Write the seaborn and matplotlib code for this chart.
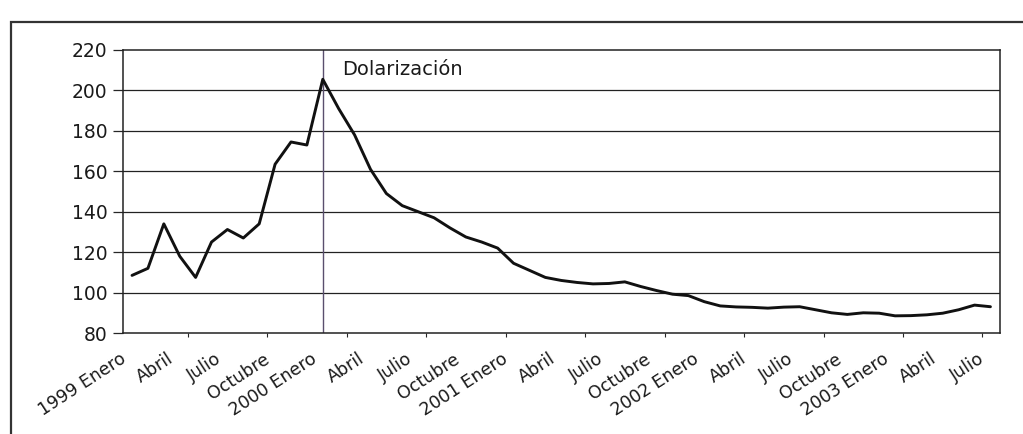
import numpy as np
import pandas as pd
import matplotlib
matplotlib.use("Agg")
import matplotlib.pyplot as plt
from matplotlib.patches import Rectangle
from matplotlib.transforms import ScaledTranslation
import seaborn as sns

# Monthly index values, January 1999 - July 2003
months = pd.date_range("1999-01-01", "2003-07-01", freq="MS")
values = [108.5, 112, 134, 118, 107.5, 125, 131.2, 127, 134, 163.5,
          174.5, 173, 205.5, 191, 178, 161, 149, 143, 140, 137,
          132, 127.5, 125, 122, 114.5, 111, 107.5, 106, 105, 104.3,
          104.5, 105.3, 103, 101, 99.2, 98.5, 95.5, 93.4, 92.9, 92.7,
          92.3, 92.8, 93, 91.5, 90, 89.2, 90, 89.8, 88.5, 88.6,
          89, 89.8, 91.5, 93.8, 93]

month_names = {1: "Enero", 4: "Abril", 7: "Julio", 10: "Octubre"}
dolarizacion = "2000-01"
y_ticks = [80, 100, 120, 140, 160, 180, 200, 220]

df = pd.DataFrame({"mes": np.arange(len(values)), "valor": values})

sns.set_style("white")
plt.rcParams["font.family"] = ["DejaVu Sans"]

fig = plt.figure(figsize=(10.23, 4.34), dpi=100)
ax = fig.add_axes([0.1202, 0.2327, 0.8573, 0.6521])

# outer frame of the scanned figure
fig.patches.append(Rectangle((11 / 1023, -0.1), 1.2, 1.1 - 22 / 434,
                             transform=fig.transFigure, fill=False,
                             edgecolor="#333333", linewidth=1.6))

for v in y_ticks[1:-1]:
    ax.axhline(v, color="#222222", linewidth=0.9, zorder=1)

sns.lineplot(data=df, x="mes", y="valor", color="#111111", linewidth=2.1, ax=ax, zorder=3)

d_idx = list(months.strftime("%Y-%m")).index(dolarizacion)
ax.axvline(d_idx, color="#5a4f6e", linewidth=1.0, zorder=2)
ax.annotate("Dolarización", xy=(d_idx, 215), xytext=(14, 0), textcoords="offset points",
            ha="left", va="top", fontsize=14, color="#1a1a1a")

ax.set_xlim(-0.57, 54.6)
ax.set_ylim(80, 220)
ax.set_yticks(y_ticks)
ax.set_yticklabels([str(v) for v in y_ticks], fontsize=13.5, color="#1a1a1a")

tick_idx = [i for i, m in enumerate(months) if m.month in month_names]
tick_lab = [(f"{m.year} " if m.month == 1 else "") + month_names[m.month]
            for m in months if m.month in month_names]
ax.set_xticks(tick_idx)
ax.set_xticklabels(tick_lab, rotation=33, ha="right", va="top",
                   rotation_mode="anchor", fontsize=12.5, color="#1a1a1a")
ax.set_xticks(np.arange(3.5, 54, 5), minor=True)
ax.tick_params(axis="x", which="major", length=0, pad=12)
ax.tick_params(axis="x", which="minor", length=3, width=0.8, direction="out", bottom=True)
ax.tick_params(axis="y", length=7, width=0.9, direction="out", left=True, pad=4)
for lbl in ax.get_xticklabels():
    lbl.set_transform(lbl.get_transform() + ScaledTranslation(-0.125, 0, fig.dpi_scale_trans))

ax.set_xlabel("")
ax.set_ylabel("")
for s in ax.spines.values():
    s.set_visible(True)
    s.set_color("#222222")
    s.set_linewidth(1.1)

fig.savefig("out.png", dpi=100)
